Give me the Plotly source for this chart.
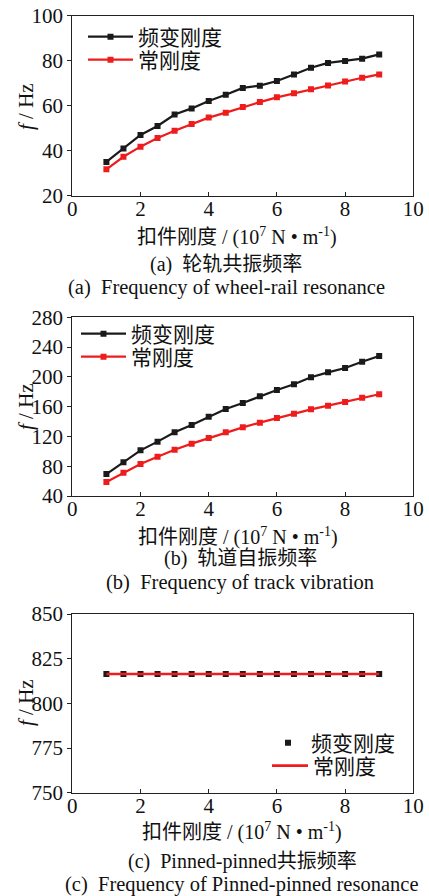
import plotly.graph_objects as go

stiffness = [1.0, 1.5, 2.0, 2.5, 3.0, 3.5, 4.0, 4.5, 5.0, 5.5, 6.0, 6.5, 7.0, 7.5, 8.0, 8.5, 9.0]

# (a) wheel-rail resonance
a_var = [35.0, 41.0, 47.0, 51.0, 56.1, 58.8, 62.1, 64.9, 67.9, 68.9, 71.0, 73.9, 76.9, 79.0, 79.9, 80.9, 82.8]
a_const = [31.7, 37.3, 41.8, 45.6, 48.9, 51.9, 54.7, 56.9, 59.4, 61.6, 63.7, 65.5, 67.3, 69.0, 70.8, 72.4, 73.9]
# (b) track vibration
b_var = [69.5, 85.2, 101.3, 113.0, 125.5, 135.4, 146.6, 156.9, 164.9, 173.9, 182.4, 190.0, 199.4, 206.1, 211.9, 220.4, 228.1]
b_const = [58.8, 71.3, 83.0, 92.8, 102.2, 110.3, 117.9, 125.5, 132.2, 138.5, 144.8, 150.6, 156.4, 161.3, 166.3, 172.1, 176.6]
# (c) pinned-pinned resonance
c_var = [816.4] * 17
c_const = [816.4] * 17

name_var = "频变刚度"
name_const = "常刚度"
xticks = [0, 2, 4, 6, 8, 10]
ya_ticks = [20, 40, 60, 80, 100]
yb_ticks = [40, 80, 120, 160, 200, 240, 280]
yc_ticks = [750, 775, 800, 825, 850]

xlabel = "扣件刚度 / (10<sup>7</sup> N • m<sup>-1</sup>)"
ylabel = "<i>f</i> / Hz"
captions = [
    ("(a)  轮轨共振频率", "(a)  Frequency of wheel-rail resonance"),
    ("(b)  轨道自振频率", "(b)  Frequency of track vibration"),
    ("(c)  Pinned-pinned共振频率", "(c)  Frequency of Pinned-pinned resonance"),
]

FONT = "Liberation Serif, Times New Roman, Noto Sans CJK SC, serif"
W, H = 429, 896
BLACK = "#1a1a1a"
RED = "#ee1c1c"


def py(px):
    return 1 - px / H


def px_x(px):
    return px / W


fig = go.Figure()

line_w = 2.2
msize = 6


def add_pair(x, yv, yc, xa, ya, lg1, lg2, markers_only_var=False):
    if markers_only_var:
        fig.add_trace(go.Scatter(x=x, y=yv, name=name_var, mode="markers",
                                 marker=dict(symbol="square", size=msize, color=BLACK),
                                 xaxis=xa, yaxis=ya, legend=lg1))
        fig.add_trace(go.Scatter(x=x, y=yc, name=name_const, mode="lines",
                                 line=dict(color=RED, width=2.6),
                                 xaxis=xa, yaxis=ya, legend=lg2))
    else:
        fig.add_trace(go.Scatter(x=x, y=yv, name=name_var, mode="lines+markers",
                                 line=dict(color=BLACK, width=line_w),
                                 marker=dict(symbol="square", size=msize, color=BLACK),
                                 xaxis=xa, yaxis=ya, legend=lg1))
        fig.add_trace(go.Scatter(x=x, y=yc, name=name_const, mode="lines+markers",
                                 line=dict(color=RED, width=line_w),
                                 marker=dict(symbol="square", size=msize, color=RED),
                                 xaxis=xa, yaxis=ya, legend=lg2))


add_pair(stiffness, a_var, a_const, "x", "y", "legend", "legend2")
add_pair(stiffness, b_var, b_const, "x2", "y2", "legend3", "legend4")
add_pair(stiffness, c_var, c_const, "x3", "y3", "legend5", "legend6", markers_only_var=True)

xdom = [px_x(72.3), px_x(413.3)]
ydoms = [(195.7, 15.7), (496.0, 317.3), (792.7, 614.0)]
yranges = [(20, 100), (40, 280), (750, 850)]
ytickss = [ya_ticks, yb_ticks, yc_ticks]

axis_common = dict(showline=True, linecolor="#222", linewidth=1.3, mirror=True,
                   showgrid=False, zeroline=False, tickfont=dict(family=FONT, size=21, color="#111"),
                   ticklen=4, tickwidth=1.2, tickcolor="#222", automargin=False)

layout = dict(width=W, height=H, margin=dict(l=0, r=0, t=0, b=0, autoexpand=False),
              paper_bgcolor="white", plot_bgcolor="white", showlegend=True,
              font=dict(family=FONT, size=21, color="#111"))

for i in range(3):
    xs = "xaxis" if i == 0 else f"xaxis{i+1}"
    ys = "yaxis" if i == 0 else f"yaxis{i+1}"
    anchor_y = "y" if i == 0 else f"y{i+1}"
    anchor_x = "x" if i == 0 else f"x{i+1}"
    layout[xs] = dict(axis_common, domain=xdom, range=[0, 10], tickvals=xticks, ticks="inside",
                      anchor=anchor_y)
    b, t = ydoms[i]
    layout[ys] = dict(axis_common, domain=[py(b), py(t)], range=list(yranges[i]), tickvals=ytickss[i],
                      ticks="outside", anchor=anchor_x)

legend_common = dict(bgcolor="rgba(0,0,0,0)", borderwidth=0, font=dict(family=FONT, size=21, color="#111"),
                     xanchor="left", yanchor="middle", itemwidth=45)
# legend rows: (x of legend box left, y of row centre)
layout["legend"] = dict(legend_common, x=px_x(83), y=py(37))
layout["legend2"] = dict(legend_common, x=px_x(83), y=py(60))
layout["legend3"] = dict(legend_common, x=px_x(76), y=py(334))
layout["legend4"] = dict(legend_common, x=px_x(76), y=py(357))
layout["legend5"] = dict(legend_common, x=px_x(265), y=py(743), itemwidth=36)
layout["legend6"] = dict(legend_common, x=px_x(267), y=py(766), itemwidth=36)

fig.update_layout(**layout)

# annotations: axis titles and captions
ann = []
title_y = [236, 536, 831]
cap1_y = [264, 558, 861]
cap2_y = [287, 582, 884]
cap_x = [(237, 226, 227), (238, 240, 240), (242, 242, 242)]
ytitle_y = [107, 407, 703]
for i in range(3):
    ann.append(dict(text=xlabel, x=px_x(cap_x[i][0]), y=py(title_y[i]), xref="paper", yref="paper",
                    showarrow=False, xanchor="center", yanchor="middle", font=dict(family=FONT, size=20)))
    ann.append(dict(text=captions[i][0], x=px_x(cap_x[i][1]), y=py(cap1_y[i]), xref="paper", yref="paper",
                    showarrow=False, xanchor="center", yanchor="middle", font=dict(family=FONT, size=20)))
    ann.append(dict(text=captions[i][1], x=px_x(cap_x[i][2]), y=py(cap2_y[i]), xref="paper", yref="paper",
                    showarrow=False, xanchor="center", yanchor="middle", font=dict(family=FONT, size=20.5)))
    ann.append(dict(text=ylabel, x=px_x(26), y=py(ytitle_y[i]), xref="paper", yref="paper", textangle=-90,
                    showarrow=False, xanchor="center", yanchor="middle", font=dict(family=FONT, size=21)))
fig.update_layout(annotations=ann)

fig.update_xaxes(ticklabelstandoff=-6)

fig.write_html("out.html",
               post_script="document.body.style.margin='0';document.body.style.overflow='hidden';")
